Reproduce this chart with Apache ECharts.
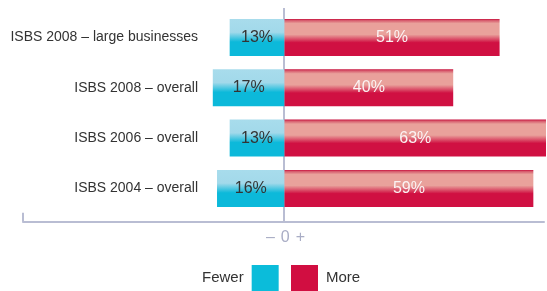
<!DOCTYPE html>
<html>
<head>
<meta charset="utf-8">
<script src="https://cdn.jsdelivr.net/npm/echarts@6/dist/echarts.min.js"></script>
<style>
  html, body { margin: 0; padding: 0; background: #fff; }
  #main { width: 547px; height: 291px; }
</style>
</head>
<body>
<div id="main"></div>
<script>
// data
var categories = ['ISBS 2008 – large businesses', 'ISBS 2008 – overall', 'ISBS 2006 – overall', 'ISBS 2004 – overall'];
var fewer = [13, 17, 13, 16];
var more = [51, 40, 63, 59];
var axisTicks = [-62, 0, 62];

var font = '"Liberation Sans Narrow", "Liberation Sans", Arial, sans-serif';
var axisColor = '#b9bdd3';

var redFill = new echarts.graphic.LinearGradient(0, 0, 0, 1, [
    {offset: 0, color: '#c80f3c'},
    {offset: 0.04, color: '#d65a6c'},
    {offset: 0.12, color: '#e9a19b'},
    {offset: 0.42, color: '#e9a19b'},
    {offset: 0.64, color: '#d01042'},
    {offset: 1, color: '#d01042'}
]);
var blueFill = new echarts.graphic.LinearGradient(0, 0, 0, 1, [
    {offset: 0, color: '#a8dcec'},
    {offset: 0.36, color: '#a2d9ea'},
    {offset: 0.62, color: '#0cb9da'},
    {offset: 1, color: '#0cb9da'}
]);

var myChart = echarts.init(document.getElementById('main'));
myChart.setOption({
    animation: false,
    textStyle: {fontFamily: font},
    grid: [
        {left: 23, width: 523, top: 12.3, height: 201.3},
        {left: 23, width: 523, top: 8, height: 213.7}
    ],
    legend: [
        {
            data: ['Fewer'],
            left: 197, top: 260,
            itemWidth: 27, itemHeight: 26,
            align: 'right',
            icon: 'rect',
            itemStyle: {color: '#0bbcda'},
            textStyle: {fontSize: 15, color: '#333', fontFamily: font, padding: [0, 3, 0, 0]}
        },
        {
            data: ['More'],
            left: 286, top: 260,
            itemWidth: 27, itemHeight: 26,
            align: 'left',
            icon: 'rect',
            itemStyle: {color: '#d10e41'},
            textStyle: {fontSize: 15, color: '#333', fontFamily: font, padding: [0, 0, 0, 3]}
        }
    ],
    xAxis: [
        {
            gridIndex: 0, type: 'value',
            min: axisTicks[0], max: axisTicks[2], interval: 62,
            axisLine: {show: false}, axisTick: {show: false},
            axisLabel: {show: false}, splitLine: {show: false}
        },
        {
            gridIndex: 1, type: 'value',
            min: axisTicks[0], max: axisTicks[2], interval: 62,
            axisLine: {show: true, lineStyle: {color: axisColor, width: 2}},
            axisTick: {show: true, inside: true, length: 9, customValues: [axisTicks[0], axisTicks[1]], lineStyle: {color: axisColor, width: 2}},
            axisLabel: {
                margin: 8,
                fontSize: 16,
                color: '#a9adc5',
                fontFamily: font,
                formatter: function (v) { return v === 0 ? '{m|–}{z|0}{p|+}' : ''; },
                rich: {
                    m: {fontSize: 16, color: '#a9adc5', padding: [0, 6, 0, 4]},
                    z: {fontSize: 16, color: '#a9adc5'},
                    p: {fontSize: 16, color: '#a9adc5', padding: [0, 0, 0, 6]}
                }
            },
            splitLine: {show: true, lineStyle: {color: ['transparent', axisColor, 'transparent'], width: 2}}
        }
    ],
    yAxis: [
        {
            gridIndex: 0, type: 'category', data: categories, inverse: true,
            axisLine: {show: false}, axisTick: {show: false},
            axisLabel: {margin: -175, fontSize: 14, color: '#333', fontFamily: font}
        },
        {
            gridIndex: 1, type: 'category', data: categories, show: false
        }
    ],
    series: [
        {
            name: 'Fewer', type: 'bar',
            xAxisIndex: 0, yAxisIndex: 0,
            data: fewer.map(function (v) { return -v; }),
            barWidth: 37, barGap: '-100%',
            itemStyle: {color: blueFill},
            label: {
                show: true, position: 'inside',
                fontSize: 16, color: '#333', fontFamily: font,
                formatter: function (p) { return Math.abs(p.value) + '%'; }
            }
        },
        {
            name: 'More', type: 'bar',
            xAxisIndex: 0, yAxisIndex: 0,
            data: more,
            barWidth: 37, barGap: '-100%',
            itemStyle: {color: redFill},
            label: {
                show: true, position: 'inside',
                fontSize: 16, color: '#fbf3f3', fontFamily: font,
                formatter: function (p) { return p.value + '%'; }
            }
        }
    ]
});
</script>
</body>
</html>
